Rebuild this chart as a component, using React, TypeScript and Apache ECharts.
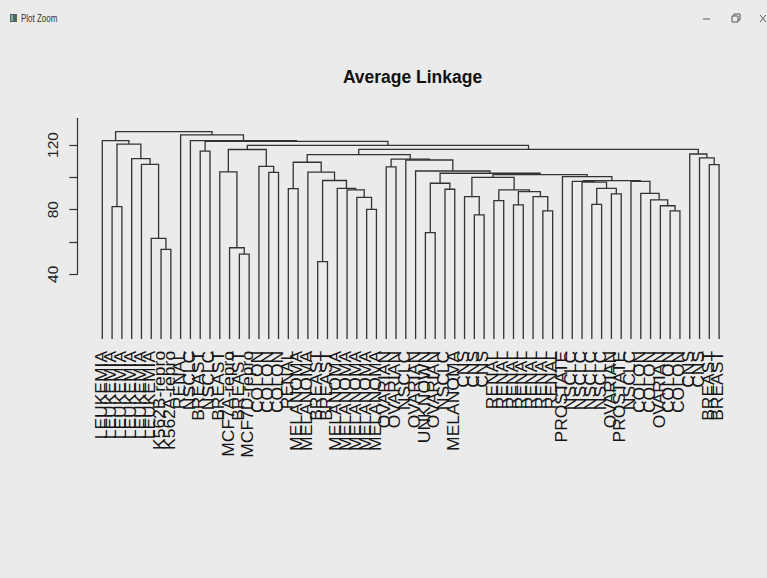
import React, { useEffect, useRef } from "react";
import * as echarts from "echarts";

// Leaf labels in dendrogram order (left to right)
const leafLabels: string[] = [
  "LEUKEMIA", "LEUKEMIA", "LEUKEMIA", "LEUKEMIA", "LEUKEMIA", "LEUKEMIA",
  "K562B-repro", "K562A-repro", "RENAL", "NSCLC", "BREAST", "NSCLC", "BREAST",
  "MCF7A-repro", "BREAST", "MCF7D-repro", "COLON", "COLON", "COLON", "RENAL",
  "MELANOMA", "MELANOMA", "BREAST", "BREAST", "MELANOMA", "MELANOMA", "MELANOMA",
  "MELANOMA", "MELANOMA", "OVARIAN", "OVARIAN", "NSCLC", "OVARIAN", "UNKNOWN",
  "OVARIAN", "NSCLC", "MELANOMA", "CNS", "CNS", "CNS", "RENAL", "RENAL", "RENAL",
  "RENAL", "RENAL", "RENAL", "RENAL", "PROSTATE", "NSCLC", "NSCLC", "NSCLC",
  "NSCLC", "OVARIAN", "PROSTATE", "NSCLC", "COLON", "COLON", "OVARIAN", "COLON",
  "COLON", "CNS", "CNS", "BREAST", "BREAST",
];

// hclust-style merge table: negative = leaf (1-based position), positive = earlier merge (1-based)
const mergeA: number[] = [
  -23, -15, -7, -14, -6, -34, -39, -46, -59, -28,
  -2, -58, -43, -51, -41, -57, -27, -38, -45, -53,
  -56, 13, -26, 15, -36, -20, -25, 14, 6, -50,
  -49, -55, 31, 1, 18, -48, 35, 29, -18, -22,
  -13, -33, -30, -17, -63, -5, 26, -32, 43, -4,
  -62, 47, -61, -11, 41, 52, 55, 11, 54, -1,
  -10, -9, 60,
];
const mergeB: number[] = [
  -24, -16, -8, 2, 3, -35, -40, -47, -60, -29,
  -3, 9, -44, -52, -42, 12, 10, 7, 8, -54,
  16, 19, 17, 22, -37, -21, 23, 20, 25, 28,
  30, 21, 32, 27, 24, 33, 36, 37, -19, 34,
  4, 38, -31, 39, -64, 5, 40, 42, 48, 46,
  45, 49, 51, -12, 44, 53, 56, 50, 57, 58,
  59, 61, 62,
];
const mergeH: number[] = [
  47.8, 52.5, 55.4, 56.4, 62.2, 65.7, 76.7, 79.2, 79.2, 80.2,
  81.8, 82.4, 82.9, 83.3, 85.5, 86.0, 87.6, 88.0, 88.0, 89.7,
  90.1, 91.1, 92.2, 92.2, 92.6, 93.0, 93.2, 93.2, 96.3, 97.0,
  97.5, 97.5, 97.9, 98.0, 100.0, 100.4, 101.6, 102.5, 103.1, 103.2,
  103.4, 103.9, 106.4, 106.7, 107.8, 108.0, 109.3, 110.7, 111.3, 111.6,
  112.0, 114.0, 114.4, 116.2, 117.2, 117.3, 119.8, 120.5, 122.2, 122.7,
  122.7, 126.3, 128.2,
];

const yTickValues = [40, 60, 80, 100, 120];
const yLabelValues = [40, 80, 120];
const titleText = "Average Linkage";

export default function App() {
  const ref = useRef<HTMLDivElement>(null);

  useEffect(() => {
    if (!ref.current) return;
    const chart = echarts.init(ref.current, null, { renderer: "svg" });

    const nodeX: number[] = [];
    const childX = (c: number) => (c < 0 ? -c - 1 : nodeX[c - 1]);
    const childH = (c: number) => (c < 0 ? 0 : mergeH[c - 1]);
    for (let i = 0; i < mergeH.length; i++) {
      nodeX[i] = (childX(mergeA[i]) + childX(mergeB[i])) / 2;
    }

    const lineColor = "#333333";
    const font = "'Liberation Sans', Arial, Helvetica, sans-serif";

    chart.setOption({
      animation: false,
      backgroundColor: "#ebebeb",
      grid: [
        { left: 102.3, width: 616.8, top: 118.3, height: 220.6 },
        { left: 77.3, width: 10, top: 118.3, height: 156 },
      ],
      xAxis: [
        { type: "value", gridIndex: 0, min: 0, max: leafLabels.length - 1, show: false },
        { type: "value", gridIndex: 1, min: 0, max: 1, show: false },
      ],
      yAxis: [
        { type: "value", gridIndex: 0, min: 0, max: 136.5, show: false },
        {
          type: "value",
          gridIndex: 1,
          min: 40,
          max: 136.5,
          position: "left",
          axisLine: { show: true, lineStyle: { color: lineColor, width: 1.2 } },
          axisTick: {
            show: true,
            inside: false,
            length: 8,
            customValues: yTickValues,
            lineStyle: { color: lineColor, width: 1.2 },
          },
          axisLabel: {
            show: true,
            rotate: 90,
            margin: 17,
            fontSize: 15.5,
            fontFamily: font,
            color: "#222",
            customValues: yLabelValues,
          },
          splitLine: { show: false },
        },
      ],
      graphic: [
        {
          type: "text",
          x: 412.5,
          y: 76,
          scaleY: 1.1,
          style: {
            text: titleText,
            font: `bold 17.5px ${font}`,
            fill: "#111",
            align: "center",
            verticalAlign: "middle",
            textAlign: "center",
            textVerticalAlign: "middle",
          },
        },
        { type: "rect", shape: { x: 10, y: 14, width: 7, height: 8 }, style: { fill: "#4d6672" } },
        { type: "rect", shape: { x: 11, y: 15, width: 2, height: 6 }, style: { fill: "#7fb07f" } },
        {
          type: "text",
          x: 21,
          y: 18.5,
          scaleX: 0.8,
          style: {
            text: "Plot Zoom",
            font: `10px ${font}`,
            fill: "#333",
            verticalAlign: "middle",
            textVerticalAlign: "middle",
          },
        },
        { type: "line", shape: { x1: 703, y1: 19, x2: 710, y2: 19 }, style: { stroke: "#555", lineWidth: 1 } },
        { type: "rect", shape: { x: 732, y: 16, width: 6, height: 6 }, style: { fill: "none", stroke: "#555", lineWidth: 1 } },
        { type: "polyline", shape: { points: [[734, 16], [734, 14], [740, 14], [740, 20], [738, 20]] }, style: { fill: "none", stroke: "#555", lineWidth: 1 } },
        { type: "line", shape: { x1: 760, y1: 15, x2: 766, y2: 22 }, style: { stroke: "#555", lineWidth: 1 } },
        { type: "line", shape: { x1: 766, y1: 15, x2: 760, y2: 22 }, style: { stroke: "#555", lineWidth: 1 } },
      ],
      series: [
        {
          type: "custom",
          xAxisIndex: 0,
          yAxisIndex: 0,
          silent: true,
          clip: false,
          data: mergeH.map((h, i) => [nodeX[i], h]),
          renderItem: (params: any, api: any) => {
            const i = params.dataIndex;
            const a = mergeA[i];
            const b = mergeB[i];
            const h = mergeH[i];
            const pts = [
              api.coord([childX(a), childH(a)]),
              api.coord([childX(a), h]),
              api.coord([childX(b), h]),
              api.coord([childX(b), childH(b)]),
            ];
            return {
              type: "polyline",
              shape: { points: pts },
              style: { stroke: lineColor, lineWidth: 1.3, fill: "none" },
            };
          },
        },
        {
          type: "custom",
          xAxisIndex: 0,
          yAxisIndex: 0,
          silent: true,
          clip: false,
          data: leafLabels.map((_, i) => [i, 0]),
          renderItem: (params: any, api: any) => {
            const i = params.dataIndex;
            const p = api.coord([i, 0]);
            return {
              type: "text",
              x: p[0] - 1,
              y: p[1] + 12,
              rotation: Math.PI / 2,
              scaleX: 1,
              scaleY: 0.9,
              style: {
                text: leafLabels[i],
                font: `17.5px ${font}`,
                fill: "#151515",
                align: "right",
                verticalAlign: "middle",
                textAlign: "right",
                textVerticalAlign: "middle",
              },
            };
          },
        },
      ],
    });

    return () => chart.dispose();
  }, []);

  return (
    <div
      ref={ref}
      style={{ position: "fixed", left: 0, top: 0, width: 767, height: 578, background: "#ebebeb" }}
    />
  );
}
